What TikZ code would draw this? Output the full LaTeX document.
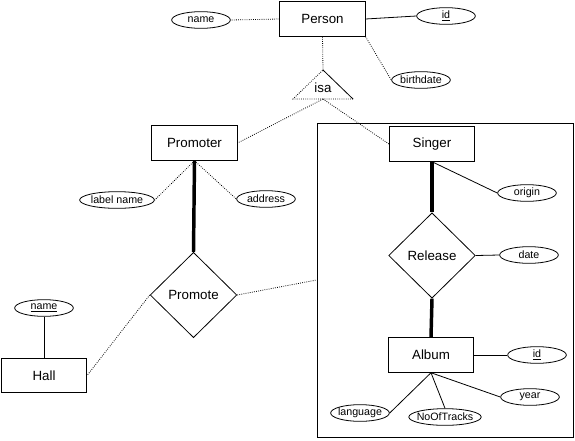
\documentclass[tikz,border=0pt]{standalone}
\usepackage{fontspec}
\setmainfont{Liberation Sans}
\usetikzlibrary{shapes.geometric}

\tikzset{
  entity/.style={draw, rectangle, line width=0.6pt, minimum width=64pt, minimum height=26pt, font=\fontsize{10}{12}\selectfont},
  relation/.style={draw, diamond, line width=0.6pt, minimum width=65pt, minimum height=64pt, inner sep=0pt, font=\fontsize{10}{12}\selectfont},
  attrib/.style={draw, ellipse, line width=0.6pt, minimum width=44pt, minimum height=12.5pt, inner xsep=-2pt, inner ysep=0pt, font=\fontsize{8}{9}\selectfont},
  link/.style={line width=0.6pt},
  dotlink/.style={line width=0.6pt, densely dotted},
  total/.style={line width=2.6pt}
}

\begin{document}
\begin{tikzpicture}[x=0.75pt, y=-0.75pt]
  \useasboundingbox (0,0) rectangle (575,440);

  % Group box round Singer and Album
  \node[draw, line width=0.6pt, minimum width=192pt, minimum height=235.5pt] (group) at (445,280) {};

  % Entities
  \node[entity] (person) at (322.5,19) {Person};
  \node[entity] (promoter) at (194.5,143) {Promoter};
  \node[entity] (singer) at (432,144) {Singer};
  \node[entity] (album) at (431,355) {Album};
  \node[entity] (hall) at (44,375.5) {Hall};

  % Relationships
  \node[relation] (release) at (432,255.5) {Release};
  \node[relation] (promote) at (193.5,295) {Promote};

  % isa triangle
  \coordinate (isatop) at (323,70);
  \coordinate (isaleft) at (293,99);
  \coordinate (isaright) at (353,99);
  \coordinate (isabase) at (323,99);
  \draw[dotlink] (isaright) -- (isaleft) -- (isatop);
  \draw[link] (isatop) -- (isaright);
  \node[font=\fontsize{10}{12}\selectfont] (isa) at (323,88) {isa};

  % Attributes
  \node[attrib] (pname) at (201,20) {name};
  \node[attrib] (pid) at (446,16) {\underline{id}};
  \node[attrib] (birth) at (421,80) {birthdate};
  \node[attrib, minimum width=56pt] (lname) at (117,200) {label name};
  \node[attrib] (address) at (266,199) {address};
  \node[attrib] (origin) at (527,193) {origin};
  \node[attrib] (date) at (529,255) {date};
  \node[attrib] (aid) at (537,355) {\underline{id}};
  \node[attrib] (year) at (530,397) {year};
  \node[attrib] (lang) at (360,413) {language};
  \node[attrib] (tracks) at (445,417) {NoOfTracks};
  \node[attrib] (hname) at (44,308) {\underline{name}};

  % Person and isa
  \draw[dotlink] (person.west) -- (pname.east);
  \draw[link] (person.east) -- (pid.west);
  \draw[dotlink] (person.south east) -- (birth.west);
  \draw[dotlink] (person.south) -- (isatop);
  \draw[dotlink] (isabase) -- (promoter.east);
  \draw[dotlink] (isabase) -- (singer.west);

  % Promoter side
  \draw[dotlink] (promoter.south) -- (lname.east);
  \draw[dotlink] (promoter.south) -- (address.west);
  \draw[total] (promoter.south) -- (promote.north);
  \draw[dotlink] (promote.east) -- (group.west);
  \draw[dotlink] (promote.west) -- (hall.east);
  \draw[link] (hname.south) -- (hall.north);

  % Singer, Release, Album
  \draw[link] (singer.south) -- (origin.west);
  \draw[total] (singer.south) -- (release.north);
  \draw[link] (release.east) -- (date.west);
  \draw[total] (release.south) -- (album.north);
  \draw[link] (album.east) -- (aid.west);
  \draw[link] (album.south) -- (year.west);
  \draw[link] (album.south) -- (lang.east);
  \draw[link] (album.south) -- (tracks.north);

\end{tikzpicture}
\end{document}
